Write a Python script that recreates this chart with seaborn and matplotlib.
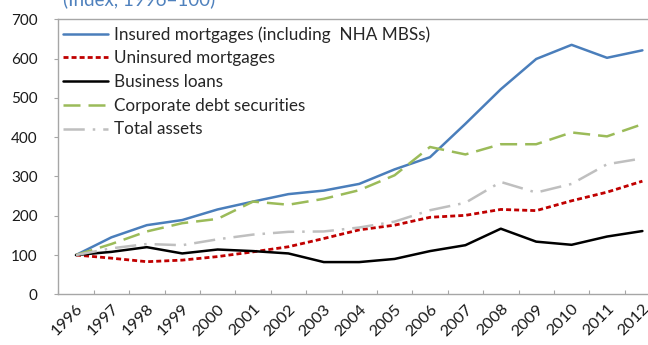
import matplotlib
matplotlib.use("Agg")
import matplotlib.pyplot as plt
from matplotlib.ticker import FixedLocator
import seaborn as sns
import pandas as pd

# Bank balance-sheet components, indexed to 1996 = 100
years = list(range(1996, 2013))
insured_mortgages = [100, 145, 176, 189, 216, 236, 255, 264, 281, 318, 349, 434, 522, 599, 635, 602, 621]
uninsured_mortgages = [100, 92, 83, 87, 96, 108, 121, 142, 164, 176, 196, 201, 216, 213, 238, 260, 288]
business_loans = [100, 108, 120, 104, 114, 110, 104, 82, 82, 90, 110, 125, 167, 134, 126, 147, 161]
corporate_debt = [100, 128, 160, 181, 192, 236, 228, 243, 265, 303, 375, 356, 382, 382, 412, 402, 433]
total_assets = [100, 117, 128, 125, 140, 152, 159, 160, 170, 185, 214, 233, 286, 259, 281, 331, 346]

series_names = [
    "Insured mortgages (including  NHA MBSs)",
    "Uninsured mortgages",
    "Business loans",
    "Corporate debt securities",
    "Total assets",
]
series_values = [insured_mortgages, uninsured_mortgages, business_loans,
                 corporate_debt, total_assets]

df = pd.DataFrame({"year": years})
for name, vals in zip(series_names, series_values):
    df[name] = vals

styles = {
    series_names[0]: dict(color="#4a7ebb", lw=1.8, linestyle="-"),
    series_names[1]: dict(color="#c00000", lw=2.0, linestyle=(0, (1.8, 1.1))),
    series_names[2]: dict(color="#000000", lw=1.8, linestyle="-"),
    series_names[3]: dict(color="#9bbb59", lw=1.8, linestyle=(0, (6.8, 3.2))),
    series_names[4]: dict(color="#bfbfbf", lw=1.8, linestyle=(0, (8.5, 3.2, 1.0, 3.2))),
}

sns.set_theme(style="white")
plt.rcParams["font.family"] = ["Lato", "DejaVu Sans"]

W, H = 648, 345
fig = plt.figure(figsize=(W / 100, H / 100), dpi=100)
ax = fig.add_axes([58.3 / W, (H - 294.3) / H, 601.8 / W, 275.0 / H])

for name in series_names:
    st = styles[name]
    sns.lineplot(data=df, x="year", y=name, ax=ax, label=name,
                 color=st["color"], linewidth=st["lw"], linestyle=st["linestyle"])

ax.set_xlim(1995.5, 2012.5)
ax.set_ylim(0, 700)
ax.set_xlabel("")
ax.set_ylabel("")

ax.set_yticks(range(0, 701, 100))
ax.tick_params(axis="y", direction="out", length=2.9, width=0.8, color="#a6a6a6",
               pad=12, labelsize=11, labelcolor="#1a1a1a", left=True)

ax.set_xticks(years)
ax.set_xticklabels([str(y) for y in years], rotation=45, ha="right", va="top",
                   rotation_mode="anchor")
ax.xaxis.set_minor_locator(FixedLocator([y - 0.5 for y in years] + [2012.5]))
ax.tick_params(axis="x", which="major", length=0, pad=5.5, labelsize=11.8, labelcolor="#1a1a1a")
ax.tick_params(axis="x", which="minor", direction="in", length=3.2, width=0.8,
               color="#a6a6a6", bottom=True)

for side in ["left", "bottom", "top", "right"]:
    ax.spines[side].set_visible(True)
    ax.spines[side].set_color("#a6a6a6")
    ax.spines[side].set_linewidth(1.0)

handles, labels = ax.get_legend_handles_labels()
ax.legend(handles, labels, loc="upper left", bbox_to_anchor=(0.008, 0.975),
          frameon=False, fontsize=12.3, handlelength=2.65, handletextpad=0.3,
          labelspacing=0.45, borderpad=0, borderaxespad=0)

fig.text(63 / W, (H - 5) / H, "(Index, 1996=100)", color="#4f81bd", fontsize=13.5,
         ha="left", va="baseline")

fig.savefig("out.png", dpi=100)
